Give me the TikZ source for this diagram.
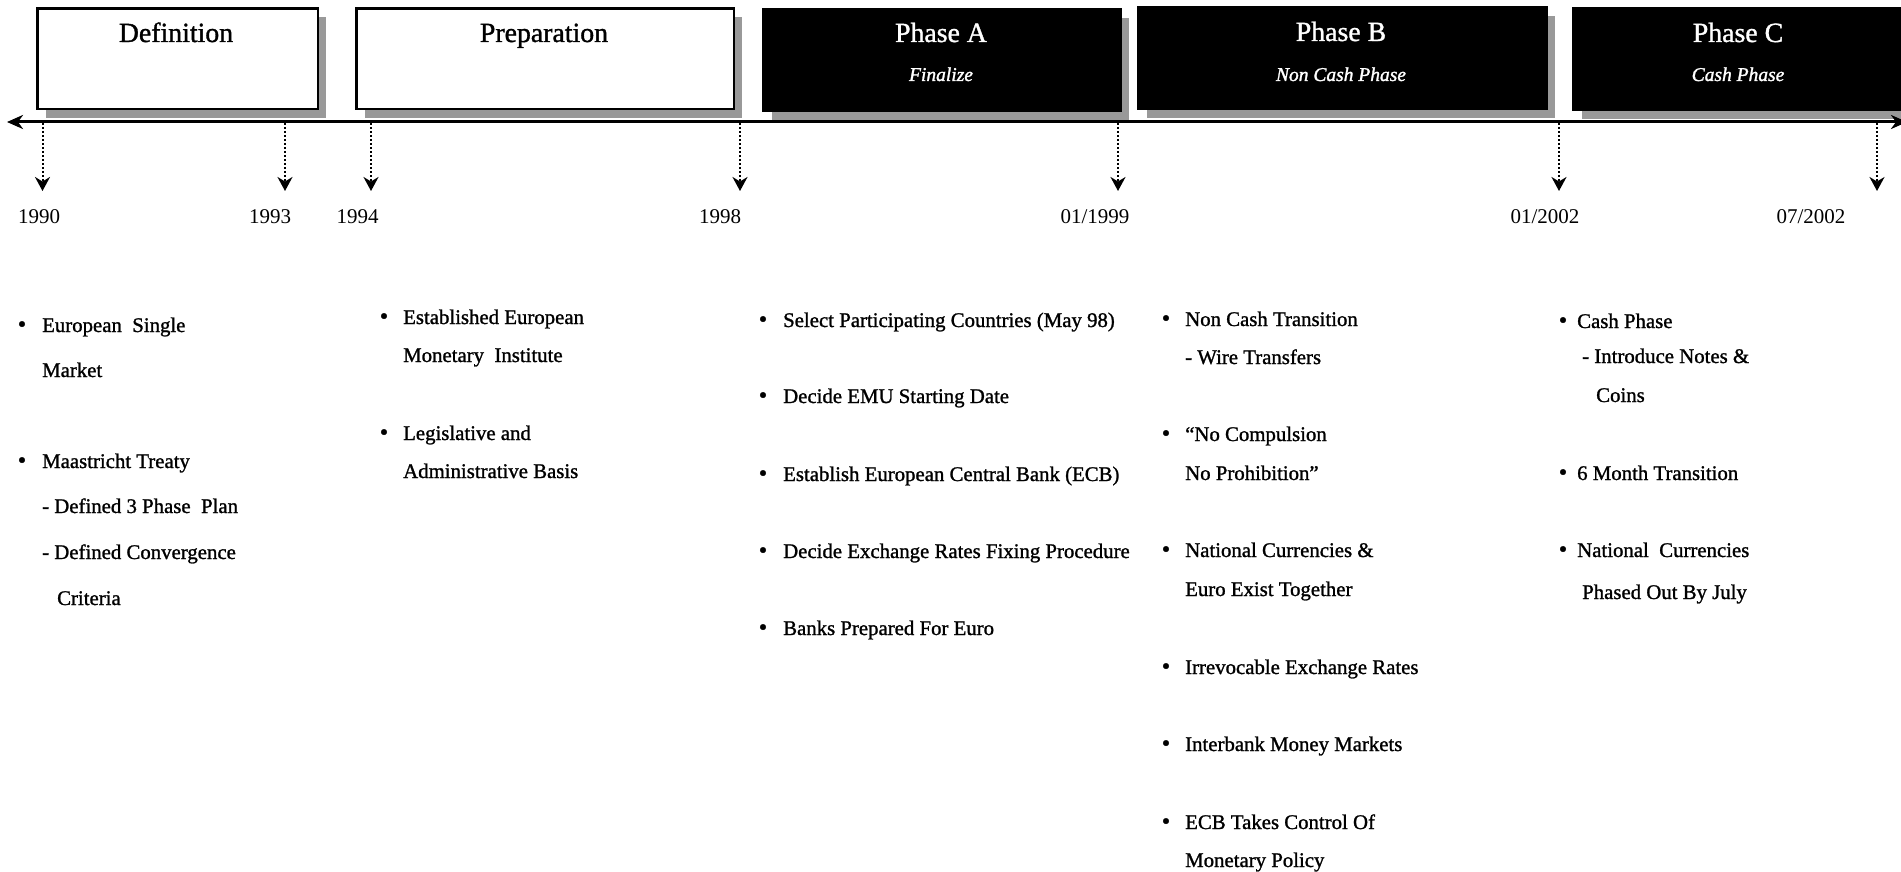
\documentclass[tikz,border=0pt]{standalone}
\usepackage{fontspec}
\setmainfont{Liberation Serif}[FakeBold=1.2,ItalicFeatures={FakeBold=1.5}]
\newfontfamily\plainserif{Liberation Serif}
\usetikzlibrary{arrows.meta,shadows}
\definecolor{shadowgray}{RGB}{153,153,153}
\newcommand\bodyfnt{\fontsize{20.8}{24}\selectfont}
\newcommand\bulfnt{\fontsize{24}{24}\selectfont}
\newcommand\titlefnt{\fontsize{27.8}{30}\selectfont}
\newcommand\subfnt{\fontsize{19.5}{22}\selectfont\itshape}
\newcommand\yearfnt{\plainserif\fontsize{21}{24}\selectfont}
\begin{document}
\begin{tikzpicture}[x=1pt,y=-1pt,
  pbox/.style={draw=black,line width=2.5pt,inner sep=0pt,anchor=north west,
    drop shadow={shadow xshift=8pt,shadow yshift=-9pt,fill=shadowgray,opacity=1}},
  whitebox/.style={pbox,fill=white},
  blackbox/.style={pbox,fill=black},
  ttl/.style={anchor=base,inner sep=0pt,font=\titlefnt},
  wttl/.style={ttl,text=white},
  subttl/.style={anchor=base,inner sep=0pt,font=\subfnt,text=white},
  axisline/.style={line width=3pt,{Stealth[length=16pt,width=14pt,inset=5pt]}-{Stealth[length=16pt,width=14pt,inset=5pt]}},
  tick/.style={line width=2pt,dash pattern=on 2pt off 2pt,-{Stealth[length=14pt,width=15pt,inset=4.5pt]}},
  year/.style={anchor=base,inner sep=0pt,font=\yearfnt},
  body/.style={anchor=base west,inner sep=0pt,font=\bodyfnt},
  bul/.style={anchor=base,inner sep=0pt,font=\bulfnt}]
\useasboundingbox (0,0) rectangle (1901,872);
\clip (0,0) rectangle (1901,872);

% boxes
\node[whitebox,minimum width=280.5pt,minimum height=100.5pt] (def) at (36.25,7.25) {};
\node[whitebox,minimum width=377.5pt,minimum height=100.5pt] (prep) at (355.25,7.25) {};
\node[blackbox,minimum width=357.5pt,minimum height=101.5pt] (phA) at (762.25,8.25) {};
\node[blackbox,minimum width=408.5pt,minimum height=101.5pt] (phB) at (1137.25,6.25) {};
\node[blackbox,minimum width=345pt,minimum height=101.5pt] (phC) at (1572.25,7.25) {};

% titles
\node[ttl] (tdef) at (176,42) {Definition};
\node[ttl] (tprep) at (544,42) {Preparation};
\node[wttl] (tA) at (941,42) {Phase A};
\node[wttl] (tB) at (1341,41) {Phase B};
\node[wttl] (tC) at (1738,42) {Phase C};
\node[subttl] (sA) at (941,81) {Finalize};
\node[subttl] (sB) at (1341,81) {Non Cash Phase};
\node[subttl] (sC) at (1738,81) {Cash Phase};

% axis
\coordinate (axL) at (7,122);
\coordinate (axR) at (1907,122);
\draw[axisline] (axL) -- (axR);

% ticks
\foreach \n/\x in {t1/42.5,t2/285,t3/371,t4/740,t5/1118,t6/1559,t7/1877}{
  \coordinate (\n s) at (\x,123);
  \coordinate (\n e) at (\x,191);
  \draw[tick] (\n s) -- (\n e);
}

% years
\node[year] (y1) at (39,223) {1990};
\node[year] (y2) at (270,223) {1993};
\node[year] (y3) at (357.5,223) {1994};
\node[year] (y4) at (720,223) {1998};
\node[year] (y5) at (1095,223) {01/1999};
\node[year] (y6) at (1545,223) {01/2002};
\node[year] (y7) at (1811,223) {07/2002};

% column 1
\node[bul] (bd1) at (22,332) {•};
\node[body] (d1a) at (42,332) {European\ \ Single};
\node[body] (d1b) at (42,377) {Market};
\node[bul] (bd2) at (22,468) {•};
\node[body] (d2a) at (42,468) {Maastricht Treaty};
\node[body] (d2b) at (42,513) {- Defined 3 Phase\ \ Plan};
\node[body] (d2c) at (42,559) {- Defined Convergence};
\node[body] (d2d) at (57,605) {Criteria};

% column 2
\node[bul] (bp1) at (384,324) {•};
\node[body] (p1a) at (403,324) {Established European};
\node[body] (p1b) at (403,362) {Monetary\ \ Institute};
\node[bul] (bp2) at (384,440) {•};
\node[body] (p2a) at (403,440) {Legislative and};
\node[body] (p2b) at (403,478) {Administrative Basis};

% column 3
\node[bul] (ba1) at (763,327) {•};
\node[body] (a1) at (783,327) {Select Participating Countries (May 98)};
\node[bul] (ba2) at (763,403) {•};
\node[body] (a2) at (783,403) {Decide EMU Starting Date};
\node[bul] (ba3) at (763,481) {•};
\node[body] (a3) at (783,481) {Establish European Central Bank (ECB)};
\node[bul] (ba4) at (763,558) {•};
\node[body] (a4) at (783,558) {Decide Exchange Rates Fixing Procedure};
\node[bul] (ba5) at (763,635) {•};
\node[body] (a5) at (783,635) {Banks Prepared For Euro};

% column 4
\node[bul] (bb1) at (1166,326) {•};
\node[body] (b1a) at (1185,326) {Non Cash Transition};
\node[body] (b1b) at (1185,364) {- Wire Transfers};
\node[bul] (bb2) at (1166,441) {•};
\node[body] (b2a) at (1185,441) {“No Compulsion};
\node[body] (b2b) at (1185,480) {No Prohibition”};
\node[bul] (bb3) at (1166,557) {•};
\node[body] (b3a) at (1185,557) {National Currencies \&};
\node[body] (b3b) at (1185,596) {Euro Exist Together};
\node[bul] (bb4) at (1166,674) {•};
\node[body] (b4) at (1185,674) {Irrevocable Exchange Rates};
\node[bul] (bb5) at (1166,751) {•};
\node[body] (b5) at (1185,751) {Interbank Money Markets};
\node[bul] (bb6) at (1166,829) {•};
\node[body] (b6a) at (1185,829) {ECB Takes Control Of};
\node[body] (b6b) at (1185,867) {Monetary Policy};

% column 5
\node[bul] (bc1) at (1563,328) {•};
\node[body] (c1a) at (1577,328) {Cash Phase};
\node[body] (c1b) at (1582,363) {- Introduce Notes \&};
\node[body] (c1c) at (1596,402) {Coins};
\node[bul] (bc2) at (1563,480) {•};
\node[body] (c2) at (1577,480) {6 Month Transition};
\node[bul] (bc3) at (1563,557) {•};
\node[body] (c3a) at (1577,557) {National\ \ Currencies};
\node[body] (c3b) at (1582,599) {Phased Out By July};
\end{tikzpicture}
\end{document}
